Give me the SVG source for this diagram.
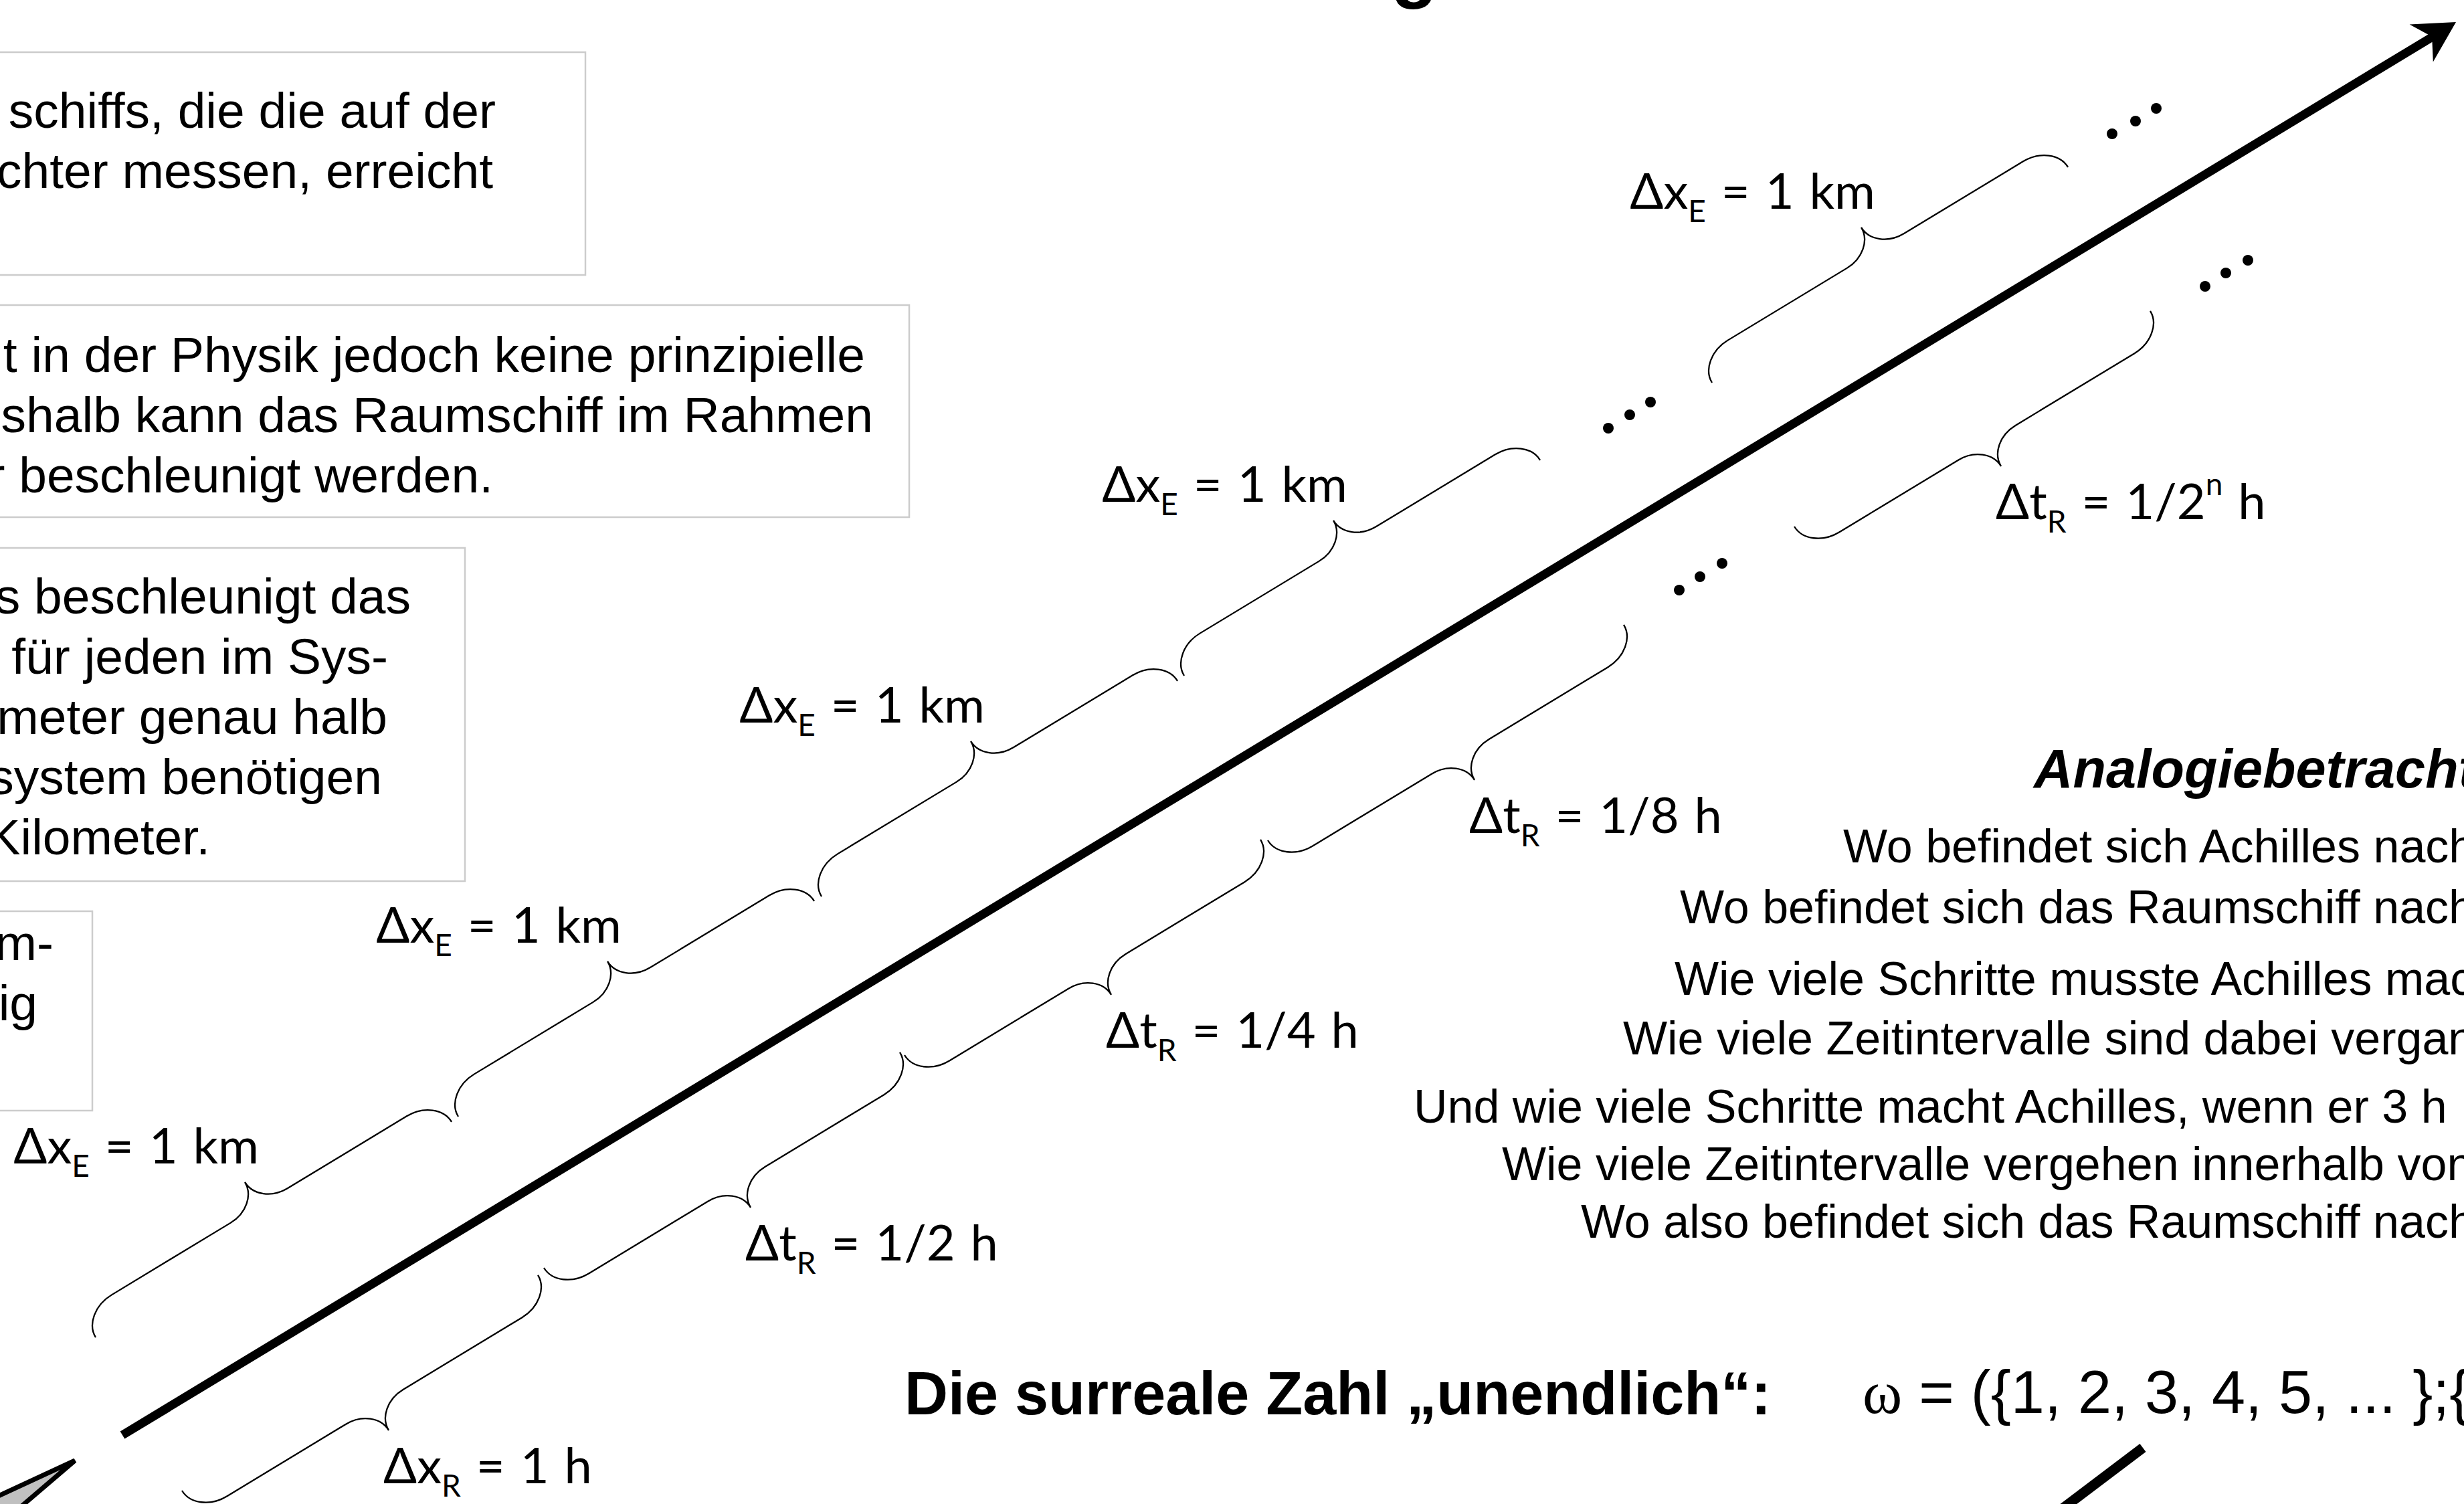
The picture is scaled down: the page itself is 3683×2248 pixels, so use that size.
<svg xmlns="http://www.w3.org/2000/svg" xmlns:xlink="http://www.w3.org/1999/xlink" width="3683" height="2248" viewBox="0 0 3683 2248">
<style>
.box{fill:#fff;stroke:#cccccc;stroke-width:2.5}
.t{font-family:"Liberation Sans",Arial,sans-serif;font-size:75px;fill:#000}
.r{font-family:"Liberation Sans",Arial,sans-serif;font-size:70px;fill:#000;text-anchor:start}
.lbl{font-family:Lato,"Open Sans","DejaVu Sans",sans-serif;font-weight:400;font-size:74px;fill:#000;word-spacing:4px}
.sub{font-size:46px}
.brace{fill:none;stroke:#000;stroke-width:2.3}
.dot{fill:#000}
</style>
<defs>
<path id="brace" d="M0,0 C0,23 24,42 53,42 L261,42 C288.6,42 311,60.4 311,83 C311,60.4 333.4,42 361,42 L569,42 C598,42 622,23 622,0"/>
</defs>
<rect width="3683" height="2248" fill="#fff"/>

<g id="title-fragment">
<text x="2079" y="-10" font-family="Liberation Sans,Arial,sans-serif" font-weight="bold" font-size="115">g</text>
</g>

<g id="box-a">
<rect class="box" x="-50" y="78" width="925" height="333"/>
<text class="t" text-anchor="end" x="741" y="191">schiffs, die die auf der</text>
<text class="t" text-anchor="end" x="737" y="281">chter messen, erreicht</text>
</g>
<g id="box-b">
<rect class="box" x="-50" y="456" width="1409" height="317"/>
<text class="t" text-anchor="end" x="1293" y="556">t in der Physik jedoch keine prinzipielle</text>
<text class="t" text-anchor="end" x="1305" y="646">shalb kann das Raumschiff im Rahmen</text>
<text class="t" text-anchor="end" x="737" y="736">r beschleunigt werden.</text>
</g>
<g id="box-c">
<rect class="box" x="-50" y="819" width="745" height="498"/>
<text class="t" text-anchor="end" x="614" y="917">s beschleunigt das</text>
<text class="t" text-anchor="end" x="580" y="1007">für jeden im Sys-</text>
<text class="t" text-anchor="end" x="579" y="1097">meter genau halb</text>
<text class="t" text-anchor="end" x="571" y="1187">system benötigen</text>
<text class="t" text-anchor="end" x="314" y="1277">Kilometer.</text>
</g>
<g id="box-d">
<rect class="box" x="-50" y="1362" width="188" height="298"/>
<text class="t" text-anchor="end" x="80" y="1435">m-</text>
<text class="t" text-anchor="end" x="56" y="1525">ig</text>
</g>

<g id="connectors">
<line x1="183" y1="2145" x2="3636" y2="55" stroke="#000" stroke-width="13"/>
<polygon points="3671,33 3601.6,36.6 3635.1,54.8 3636.8,92.6" fill="#000"/>
<line x1="3203" y1="2164" x2="2990" y2="2325" stroke="#000" stroke-width="15"/>
</g>

<g id="ship">
<polygon points="112,2183 -100,2281 -40,2313" fill="#c0c0c0" stroke="#000" stroke-width="7"/>
</g>

<g id="upper-braces">
<g id="u1"><use href="#brace" class="brace" transform="translate(143,1999) rotate(-31.2) scale(1,-1)"/>
<text class="lbl" text-anchor="end" x="387" y="1739">Δx<tspan class="sub" dy="20">E</tspan><tspan dy="-20"> = 1 km</tspan></text></g>
<g id="u2"><use href="#brace" class="brace" transform="translate(685,1669) rotate(-31.2) scale(1,-1)"/>
<text class="lbl" text-anchor="end" x="929" y="1409">Δx<tspan class="sub" dy="20">E</tspan><tspan dy="-20"> = 1 km</tspan></text></g>
<g id="u3"><use href="#brace" class="brace" transform="translate(1228,1340) rotate(-31.2) scale(1,-1)"/>
<text class="lbl" text-anchor="end" x="1472" y="1080">Δx<tspan class="sub" dy="20">E</tspan><tspan dy="-20"> = 1 km</tspan></text></g>
<g id="u4"><use href="#brace" class="brace" transform="translate(1770,1010) rotate(-31.2) scale(1,-1)"/>
<text class="lbl" text-anchor="end" x="2014" y="750">Δx<tspan class="sub" dy="20">E</tspan><tspan dy="-20"> = 1 km</tspan></text></g>
<g id="u5"><use href="#brace" class="brace" transform="translate(2559,572) rotate(-31.2) scale(1,-1)"/>
<text class="lbl" text-anchor="end" x="2803" y="312">Δx<tspan class="sub" dy="20">E</tspan><tspan dy="-20"> = 1 km</tspan></text></g>
</g>

<g id="lower-braces">
<g id="l1"><use href="#brace" class="brace" transform="translate(272,2228) rotate(-31.2)"/>
<text class="lbl" x="573" y="2217">Δx<tspan class="sub" dy="20">R</tspan><tspan dy="-20"> = 1 h</tspan></text></g>
<g id="l2"><use href="#brace" class="brace" transform="translate(813,1895) rotate(-31.2)"/>
<text class="lbl" x="1114" y="1884">Δt<tspan class="sub" dy="20">R</tspan><tspan dy="-20"> = 1/2 h</tspan></text></g>
<g id="l3"><use href="#brace" class="brace" transform="translate(1352,1577) rotate(-31.2)"/>
<text class="lbl" x="1653" y="1566">Δt<tspan class="sub" dy="20">R</tspan><tspan dy="-20"> = 1/4 h</tspan></text></g>
<g id="l4"><use href="#brace" class="brace" transform="translate(1895,1256) rotate(-31.2)"/>
<text class="lbl" x="2196" y="1245">Δt<tspan class="sub" dy="20">R</tspan><tspan dy="-20"> = 1/8 h</tspan></text></g>
<g id="l5"><use href="#brace" class="brace" transform="translate(2682,787) rotate(-31.2)"/>
<text class="lbl" x="2983" y="776">Δt<tspan class="sub" dy="20">R</tspan><tspan dy="-20"> = 1/2</tspan><tspan class="sub" dy="-36">n</tspan><tspan dy="36"> h</tspan></text></g>
</g>

<g id="ellipses">
<circle class="dot" cx="2404" cy="640" r="8"/><circle class="dot" cx="2436" cy="620" r="8"/><circle class="dot" cx="2467" cy="601" r="8"/>
<circle class="dot" cx="3157" cy="200" r="8"/><circle class="dot" cx="3192" cy="181" r="8"/><circle class="dot" cx="3223" cy="162" r="8"/>
<circle class="dot" cx="2510" cy="882" r="8"/><circle class="dot" cx="2541" cy="862" r="8"/><circle class="dot" cx="2574" cy="842" r="8"/>
<circle class="dot" cx="3296" cy="428" r="8"/><circle class="dot" cx="3327" cy="408" r="8"/><circle class="dot" cx="3360" cy="389" r="8"/>
</g>

<g id="analogy">
<text x="3040" y="1177" font-family="Liberation Sans,Arial,sans-serif" font-weight="bold" font-style="italic" font-size="81">Analogiebetrachtung</text>
<text class="r" x="2755" y="1289">Wo befindet sich Achilles nach</text>
<text class="r" x="2511" y="1380">Wo befindet sich das Raumschiff nach</text>
<text class="r" x="2503" y="1487">Wie viele Schritte musste Achilles machen</text>
<text class="r" x="2426" y="1576">Wie viele Zeitintervalle sind dabei vergangen</text>
<text class="r" x="2113" y="1678">Und wie viele Schritte macht Achilles, wenn er 3 h</text>
<text class="r" x="2245" y="1764">Wie viele Zeitintervalle vergehen innerhalb von</text>
<text class="r" x="2363" y="1850">Wo also befindet sich das Raumschiff nach</text>
</g>

<g id="surreal">
<text x="1352" y="2114" font-family="Liberation Sans,Arial,sans-serif" font-weight="bold" font-size="90">Die surreale Zahl „unendlich“:</text>
<text x="2784" y="2112" font-family="Liberation Sans,Arial,sans-serif" font-size="90"><tspan font-family="Liberation Serif,serif">ω</tspan> = ({1, 2, 3, 4, 5, ... };{</text>
</g>
</svg>
